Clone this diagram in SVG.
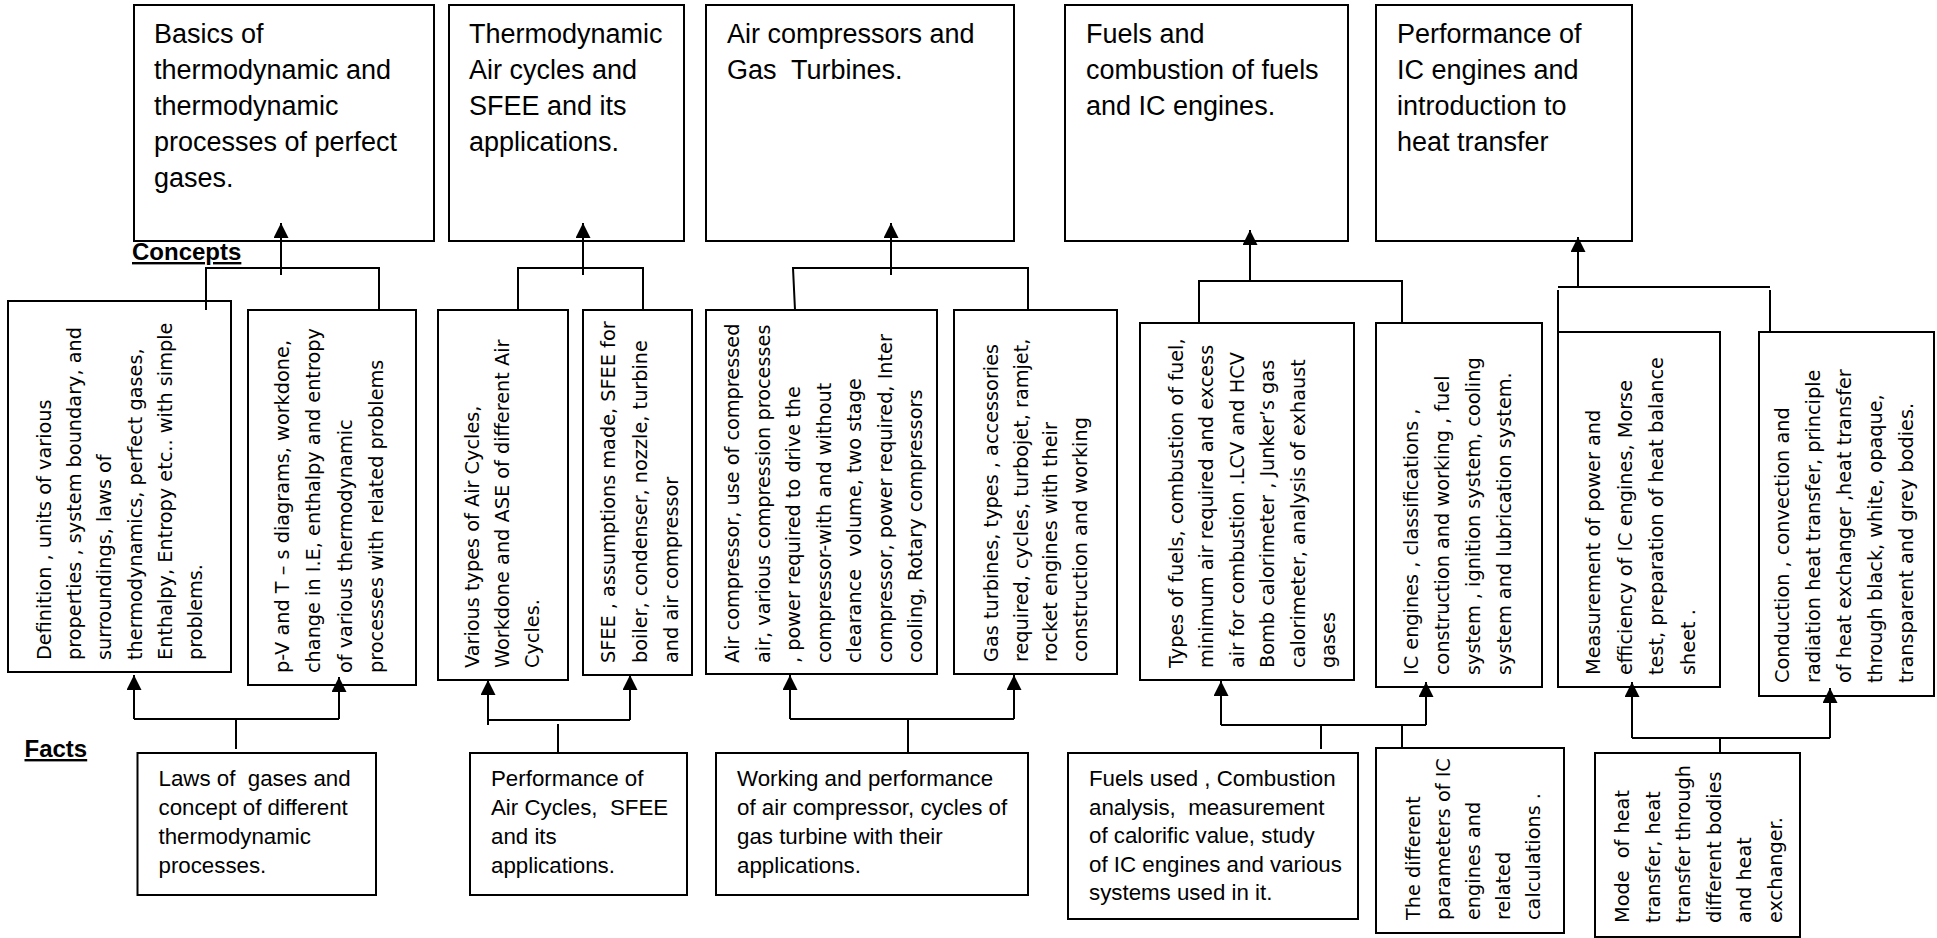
<svg xmlns="http://www.w3.org/2000/svg" width="1937" height="938" viewBox="0 0 1937 938">
<style>
.box{fill:#fff;stroke:#000;stroke-width:2}
.h{font-family:"Liberation Sans",Arial,sans-serif;font-size:27px;fill:#000;white-space:pre}
.hs{font-family:"Liberation Sans",Arial,sans-serif;font-size:22.3px;fill:#000;white-space:pre}
.v{font-family:"DejaVu Sans",sans-serif;font-size:19.3px;fill:#000;white-space:pre}
.lbl{font-family:"Liberation Sans",Arial,sans-serif;font-size:24px;font-weight:bold;fill:#000;text-decoration:underline}
.c{stroke:#000;stroke-width:2;fill:none}
.a{stroke:#000;stroke-width:2;fill:none;marker-end:url(#arr)}
</style>
<defs>
<marker id="arr" markerUnits="userSpaceOnUse" markerWidth="15" markerHeight="15" viewBox="0 0 15 15" refX="15" refY="7.5" orient="auto">
<path d="M0,0 L15,7.5 L0,15 z" fill="#000"/>
</marker>
</defs>
<rect width="1937" height="938" fill="#fff"/>

<text class="lbl" x="132" y="260">Concepts</text>
<text class="lbl" x="24.5" y="757">Facts</text>

<!-- top topic boxes -->
<g id="t1"><rect class="box" x="134" y="5" width="300" height="236"/>
<text class="h" x="154" y="43">Basics of<tspan x="154" dy="36">thermodynamic and</tspan><tspan x="154" dy="36">thermodynamic</tspan><tspan x="154" dy="36">processes of perfect</tspan><tspan x="154" dy="36">gases.</tspan></text></g>
<g id="t2"><rect class="box" x="449" y="5" width="235" height="236"/>
<text class="h" x="469" y="43">Thermodynamic<tspan x="469" dy="36">Air cycles and</tspan><tspan x="469" dy="36">SFEE and its</tspan><tspan x="469" dy="36">applications.</tspan></text></g>
<g id="t3"><rect class="box" x="706" y="5" width="308" height="236"/>
<text class="h" x="727" y="43">Air compressors and<tspan x="727" dy="36">Gas  Turbines.</tspan></text></g>
<g id="t4"><rect class="box" x="1065" y="5" width="283" height="236"/>
<text class="h" x="1086" y="43">Fuels and<tspan x="1086" dy="36">combustion of fuels</tspan><tspan x="1086" dy="36">and IC engines.</tspan></text></g>
<g id="t5"><rect class="box" x="1376" y="5" width="256" height="236"/>
<text class="h" x="1397" y="43">Performance of<tspan x="1397" dy="36">IC engines and</tspan><tspan x="1397" dy="36">introduction to</tspan><tspan x="1397" dy="36">heat transfer</tspan></text></g>

<!-- concept boxes (rotated text) -->
<g id="c1"><rect class="box" x="8" y="301" width="223" height="371"/>
<text class="v" transform="translate(51,660) rotate(-90)">Definition , units of various<tspan x="0" dy="30.2">properties , system boundary, and</tspan><tspan x="0" dy="30.2">surroundings, laws of</tspan><tspan x="0" dy="30.2">thermodynamics, perfect gases,</tspan><tspan x="0" dy="30.2">Enthalpy, Entropy etc.. with simple</tspan><tspan x="0" dy="30.2">problems.</tspan></text></g>
<g id="c2"><rect class="box" x="248" y="310" width="168" height="375"/>
<text class="v" transform="translate(289,673) rotate(-90)">p-V and T – s diagrams, workdone,<tspan x="0" dy="31.3">change in I.E, enthalpy and entropy</tspan><tspan x="0" dy="31.3">of various thermodynamic</tspan><tspan x="0" dy="31.3">processes with related problems</tspan></text></g>
<g id="c3"><rect class="box" x="438" y="310" width="130" height="370"/>
<text class="v" transform="translate(479,668) rotate(-90)">Various types of Air Cycles,<tspan x="0" dy="30">Workdone and ASE of different Air</tspan><tspan x="0" dy="30">Cycles.</tspan></text></g>
<g id="c4"><rect class="box" x="583" y="310" width="109" height="365"/>
<text class="v" transform="translate(615,663) rotate(-90)">SFEE , assumptions made, SFEE for<tspan x="0" dy="31.5">boiler, condenser, nozzle, turbine</tspan><tspan x="0" dy="31.5">and air compressor</tspan></text></g>
<g id="c5"><rect class="box" x="706" y="310" width="231" height="364"/>
<text class="v" transform="translate(739,663) rotate(-90)">Air compressor, use of compressed<tspan x="0" dy="30.5">air, various compression processes</tspan><tspan x="0" dy="30.5">, power required to drive the</tspan><tspan x="0" dy="30.5">compressor-with and without</tspan><tspan x="0" dy="30.5">clearance  volume, two stage</tspan><tspan x="0" dy="30.5">compressor, power required, Inter</tspan><tspan x="0" dy="30.5">cooling, Rotary compressors</tspan></text></g>
<g id="c6"><rect class="box" x="954" y="310" width="163" height="364"/>
<text class="v" transform="translate(998,662) rotate(-90)">Gas turbines, types , accessories<tspan x="0" dy="29.7">required, cycles, turbojet, ramjet,</tspan><tspan x="0" dy="29.7">rocket engines with their</tspan><tspan x="0" dy="29.7">construction and working</tspan></text></g>
<g id="c7"><rect class="box" x="1140" y="323" width="214" height="357"/>
<text class="v" transform="translate(1183,668) rotate(-90)">Types of fuels, combustion of fuel,<tspan x="0" dy="30.4">minimum air required and excess</tspan><tspan x="0" dy="30.4">air for combustion .LCV and HCV</tspan><tspan x="0" dy="30.4">Bomb calorimeter , Junker’s gas</tspan><tspan x="0" dy="30.4">calorimeter, analysis of exhaust</tspan><tspan x="0" dy="30.4">gases</tspan></text></g>
<g id="c8"><rect class="box" x="1376" y="323" width="166" height="364"/>
<text class="v" transform="translate(1418,675) rotate(-90)">IC engines , classifications ,<tspan x="0" dy="31">construction and working , fuel</tspan><tspan x="0" dy="31">system , ignition system, cooling</tspan><tspan x="0" dy="31">system and lubrication system.</tspan></text></g>
<g id="c9"><rect class="box" x="1558" y="332" width="162" height="355"/>
<text class="v" transform="translate(1600,675) rotate(-90)">Measurement of power and<tspan x="0" dy="31.6">efficiency of IC engines, Morse</tspan><tspan x="0" dy="31.6">test, preparation of heat balance</tspan><tspan x="0" dy="31.6">sheet .</tspan></text></g>
<g id="c10"><rect class="box" x="1759" y="332" width="175" height="364"/>
<text class="v" transform="translate(1789,683) rotate(-90)">Conduction , convection and<tspan x="0" dy="31">radiation heat transfer, principle</tspan><tspan x="0" dy="31">of heat exchanger ,heat transfer</tspan><tspan x="0" dy="31">through black, white, opaque,</tspan><tspan x="0" dy="31">transparent and grey bodies.</tspan></text></g>

<!-- fact boxes -->
<g id="f1"><rect class="box" x="137.5" y="753" width="238.5" height="142"/>
<text class="hs" x="158.5" y="786">Laws of  gases and<tspan x="158.5" dy="29">concept of different</tspan><tspan x="158.5" dy="29">thermodynamic</tspan><tspan x="158.5" dy="29">processes.</tspan></text></g>
<g id="f2"><rect class="box" x="470" y="753" width="217" height="142"/>
<text class="hs" x="491" y="786">Performance of<tspan x="491" dy="29">Air Cycles,  SFEE</tspan><tspan x="491" dy="29">and its</tspan><tspan x="491" dy="29">applications.</tspan></text></g>
<g id="f3"><rect class="box" x="716" y="753" width="312" height="142"/>
<text class="hs" x="737" y="786">Working and performance<tspan x="737" dy="29">of air compressor, cycles of</tspan><tspan x="737" dy="29">gas turbine with their</tspan><tspan x="737" dy="29">applications.</tspan></text></g>
<g id="f4"><rect class="box" x="1068" y="753" width="290" height="166"/>
<text class="hs" x="1089" y="786">Fuels used , Combustion<tspan x="1089" dy="28.6">analysis,  measurement</tspan><tspan x="1089" dy="28.6">of calorific value, study</tspan><tspan x="1089" dy="28.6">of IC engines and various</tspan><tspan x="1089" dy="28.6">systems used in it.</tspan></text></g>
<g id="f5"><rect class="box" x="1376" y="748" width="188" height="185"/>
<text class="v" transform="translate(1420,920) rotate(-90)">The different<tspan x="0" dy="30">parameters of IC</tspan><tspan x="0" dy="30">engines and</tspan><tspan x="0" dy="30">related</tspan><tspan x="0" dy="30">calculations .</tspan></text></g>
<g id="f6"><rect class="box" x="1595" y="753" width="205" height="184"/>
<text class="v" transform="translate(1629,923) rotate(-90)">Mode  of heat<tspan x="0" dy="30.6">transfer, heat</tspan><tspan x="0" dy="30.6">transfer through</tspan><tspan x="0" dy="30.6">different bodies</tspan><tspan x="0" dy="30.6">and heat</tspan><tspan x="0" dy="30.6">exchanger.</tspan></text></g>

<!-- connectors -->
<g id="connectors">
<path class="a" d="M281,275 V223"/>
<path class="c" d="M206,310 V268 H379 V310"/>
<path class="a" d="M583,275 V223"/>
<path class="c" d="M518,310 V268 H643 V310"/>
<path class="a" d="M891,275 V223"/>
<path class="c" d="M795,310 L793,268 H1028 V310"/>
<path class="a" d="M1250,281 V230"/>
<path class="c" d="M1199,323 V281 H1402 V323"/>
<path class="a" d="M1578,287 V237"/>
<path class="c" d="M1558,287 H1770"/>
<path class="c" d="M1558,290 V332 M1770,290 V332"/>

<path class="c" d="M236,749 V719 M134,719 H339"/>
<path class="a" d="M134,719 V675"/>
<path class="a" d="M339,719 V677"/>

<path class="c" d="M558,752 V724 M488,720 H630"/>
<path class="a" d="M488,725 V680"/>
<path class="a" d="M630,720 V675"/>

<path class="c" d="M908,753 V719 M790,719 H1014"/>
<path class="a" d="M790,719 V675"/>
<path class="a" d="M1014,719 V675"/>

<path class="c" d="M1321,749 V725 M1402,748 V725 M1221,725 H1426"/>
<path class="a" d="M1221,725 V681"/>
<path class="a" d="M1426,725 V682"/>

<path class="c" d="M1720,753 V738 M1632,738 H1830"/>
<path class="a" d="M1632,738 V682"/>
<path class="a" d="M1830,738 V688"/>
</g>
</svg>
